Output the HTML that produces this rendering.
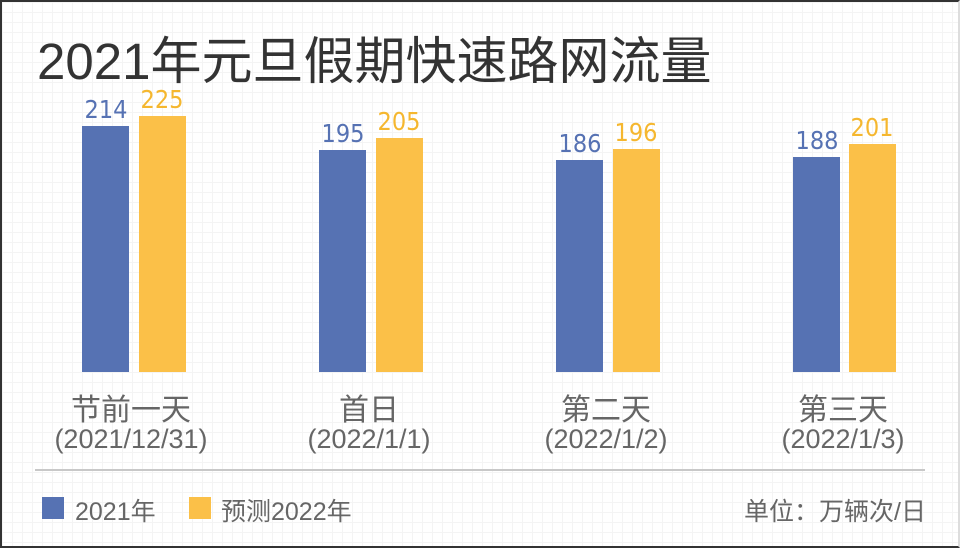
<!DOCTYPE html>
<html><head><meta charset="utf-8"><style>
body{margin:0;width:960px;height:548px;overflow:hidden;background:#fff;font-family:"Liberation Sans","Noto Sans CJK SC",sans-serif}
.f{position:absolute;left:0;top:0;width:956px;height:544px;border:2px solid #333;border-right-color:#ddd;background-color:#fff;
background-image:linear-gradient(#f4f4f4 1px,transparent 1px),linear-gradient(90deg,#f4f4f4 1px,transparent 1px);background-size:10px 10px}
.a{position:absolute;white-space:nowrap}
.b{position:absolute;width:47px;bottom:176px}
.bl{background:#5672b3}.yl{background:#fbc048}
.v{position:absolute;font-size:25px;width:60px;text-align:center;font-family:"DejaVu Sans Condensed","Liberation Sans",sans-serif}
.c{position:absolute;width:220px;text-align:center;color:#666;white-space:nowrap}
</style></head><body><div class="f"></div>
<div class="a" style="left:37px;top:20px;font-size:51px;color:#333">2021年元旦假期快速路网流量</div>

<div class="b bl" style="left:82px;top:126px"></div><div class="b yl" style="left:139px;top:116px"></div>
<div class="b bl" style="left:319px;top:150px"></div><div class="b yl" style="left:376px;top:138px"></div>
<div class="b bl" style="left:556px;top:160px"></div><div class="b yl" style="left:613px;top:149px"></div>
<div class="b bl" style="left:793px;top:157px"></div><div class="b yl" style="left:849px;top:144px"></div>

<div class="v" style="left:76px;top:95px;color:#5672b3">214</div><div class="v" style="left:132px;top:85px;color:#f5b72f">225</div>
<div class="v" style="left:313px;top:119px;color:#5672b3">195</div><div class="v" style="left:369px;top:107px;color:#f5b72f">205</div>
<div class="v" style="left:550px;top:129px;color:#5672b3">186</div><div class="v" style="left:606px;top:118px;color:#f5b72f">196</div>
<div class="v" style="left:787px;top:126px;color:#5672b3">188</div><div class="v" style="left:842px;top:113px;color:#f5b72f">201</div>

<div class="c" style="left:21px;top:385px;font-size:30px">节前一天</div><div class="c" style="left:21px;top:424px;font-size:27px">(2021/12/31)</div>
<div class="c" style="left:259px;top:385px;font-size:30px">首日</div><div class="c" style="left:259px;top:424px;font-size:27px">(2022/1/1)</div>
<div class="c" style="left:496px;top:385px;font-size:30px">第二天</div><div class="c" style="left:496px;top:424px;font-size:27px">(2022/1/2)</div>
<div class="c" style="left:733px;top:385px;font-size:30px">第三天</div><div class="c" style="left:733px;top:424px;font-size:27px">(2022/1/3)</div>

<div class="a" style="left:35px;top:469px;width:890px;height:2px;background:#c8c8c8"></div>
<div class="a bl" style="left:42px;top:497px;width:22px;height:22px"></div>
<div class="a" style="left:75px;top:492px;font-size:25px;color:#666">2021年</div>
<div class="a yl" style="left:189px;top:497px;width:22px;height:22px"></div>
<div class="a" style="left:221px;top:492px;font-size:25px;color:#666">预测2022年</div>
<div class="a" style="right:34px;top:492px;font-size:25px;color:#666">单位：万辆次/日</div>
</body></html>
